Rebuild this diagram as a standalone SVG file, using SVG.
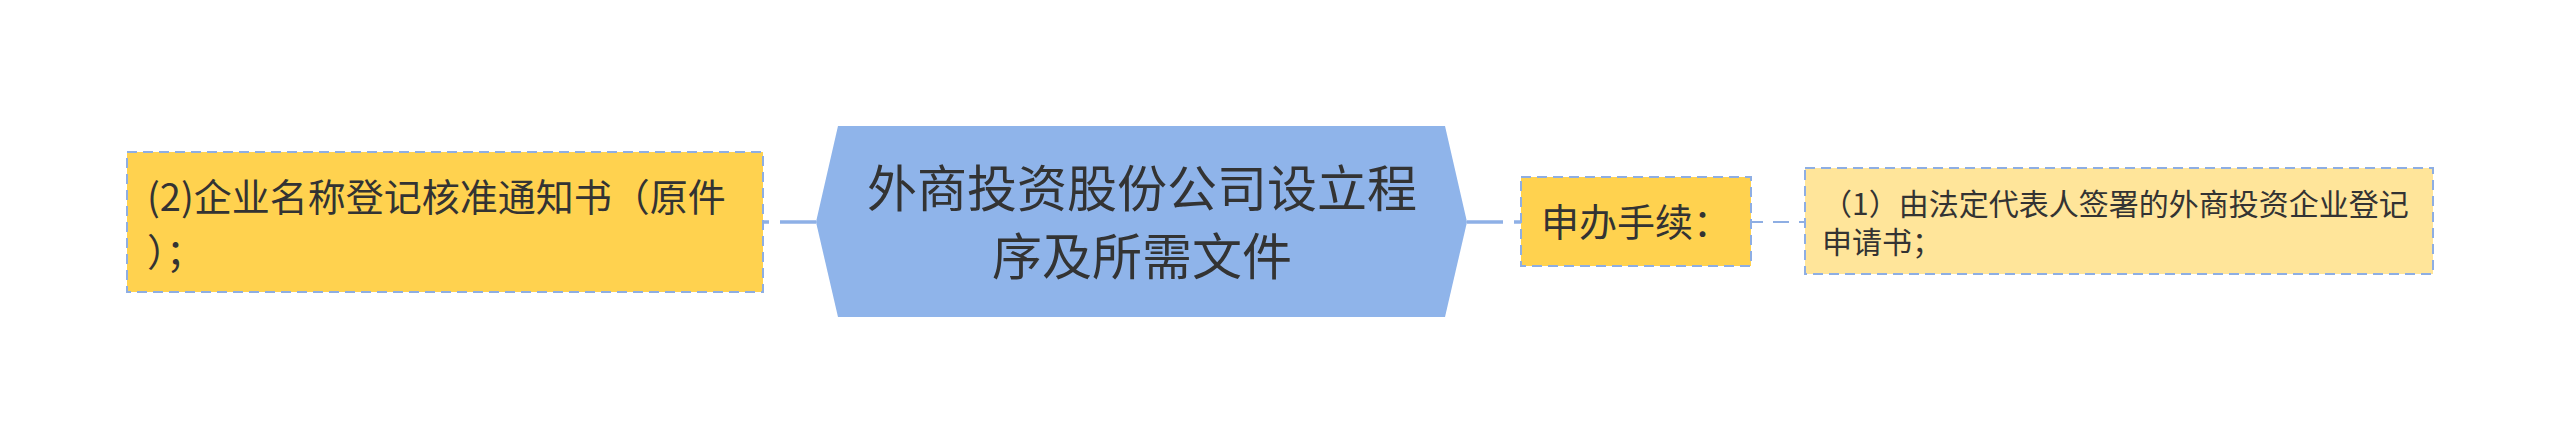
<svg xmlns="http://www.w3.org/2000/svg" width="2560" height="443" viewBox="0 0 2560 443">
<style>
.txt{font-family:"Noto Sans CJK SC","Noto Sans",sans-serif;fill:#333333;}
.sub{fill:#ffd24f;stroke:#8eaee3;stroke-width:2;stroke-dasharray:10 6;}
.leaf{fill:#ffe59a;stroke:#8eaee3;stroke-width:2;stroke-dasharray:10 6;}
.main{stroke:#8eb0e6;stroke-width:3.5;fill:none;stroke-dasharray:36 11;}
.thin{stroke:#8eaee3;stroke-width:2;fill:none;stroke-dasharray:16 10;}
</style>
<rect width="2560" height="443" fill="#ffffff"/>
<g id="connectors">
<path class="main" d="M816,222 L763,222"/>
<path class="main" d="M1467,222 L1521,222"/>
<path class="thin" d="M1751,222 L1805,222" stroke-dashoffset="4"/>
</g>
<g id="root">
<polygon points="816,222 838,126 1445,126 1467,222 1445,317 838,317" fill="#8fb4ea"/>
<text class="txt" font-size="50" text-anchor="middle"><tspan x="1142" y="207">外商投资股份公司设立程</tspan><tspan x="1142" y="275">序及所需文件</tspan></text>
</g>
<g id="node-left">
<rect class="sub" x="127" y="152" width="636" height="140"/>
<text class="txt" font-size="38"><tspan x="147" y="211">(2)企业名称登记核准通知书（原件</tspan><tspan x="147" y="266">）；</tspan></text>
</g>
<g id="node-apply">
<rect class="sub" x="1521" y="177" width="230" height="89"/>
<text class="txt" font-size="38" x="1541" y="236">申办手续：</text>
</g>
<g id="node-doc1">
<rect class="leaf" x="1805" y="168" width="628" height="106"/>
<text class="txt" font-size="30"><tspan x="1822" y="215">（1）由法定代表人签署的外商投资企业登记</tspan><tspan x="1822" y="253">申请书；</tspan></text>
</g>
</svg>
